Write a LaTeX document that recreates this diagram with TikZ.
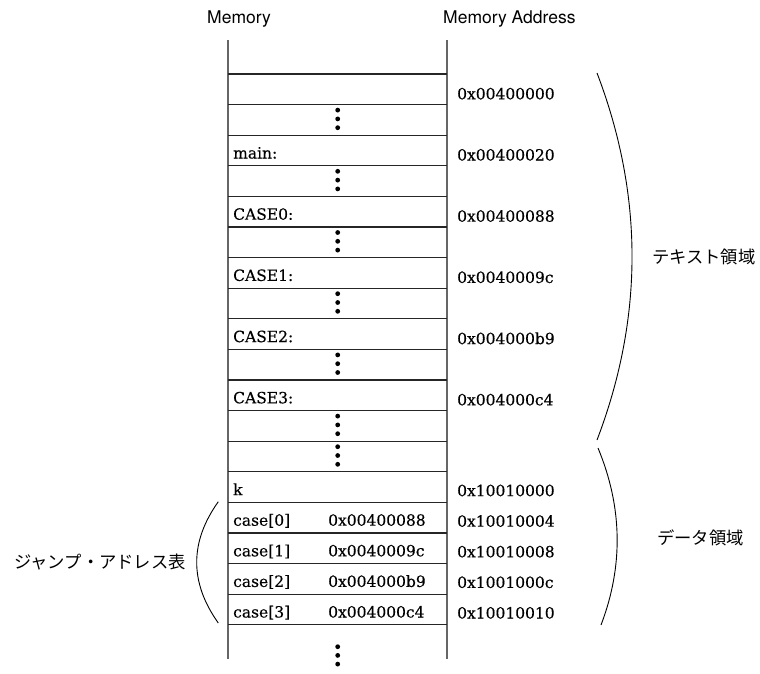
\documentclass[tikz,border=0pt]{standalone}
\usepackage{fontspec}
\setmainfont{DejaVu Serif}[FakeBold=0.3]
\newfontfamily\hfont{TeX Gyre Heros}
\newfontfamily\jfont{Noto Sans CJK JP}
\begin{document}
\begin{tikzpicture}[x=1pt,y=-1pt,
  hline/.style={line width=1.3pt, black!85},
  vline/.style={line width=1.2pt, black!60},
  lbl/.style={anchor=base west, inner sep=0pt, font=\fontsize{15.5}{18}\selectfont},
  addr/.style={anchor=base west, inner sep=0pt, font=\fontsize{15.5}{18}\selectfont},
  hd/.style={anchor=base west, inner sep=0pt, font=\hfont\fontsize{17.5}{20}\selectfont},
  jp/.style={anchor=west, inner sep=0pt, font=\jfont\fontsize{17.3}{20}\selectfont},
  brace/.style={line width=0.9pt, black}]
\useasboundingbox (0,0) rectangle (760,673);
% headers
\node[hd] (hmem) at (207,23.3) {Memory};
\node[hd] (haddr) at (443,23.3) {Memory Address};
% column
\draw[vline] (228,40) -- (228,659);
\draw[vline] (447,40) -- (447,659);
\foreach \k in {0,...,18} {
  \draw[hline] (228,{74+30.6*\k}) -- (447,{74+30.6*\k});
}
% dots
\foreach \k in {1,3,5,7,9,11,12} {
  \foreach \d in {-8.8,0,8.8} {
    \fill (337.7,{89.3+30.6*\k-1+\d}) circle (2.4);
  }
}
\foreach \d in {646.7,655.4,664.1} {
  \fill (337.7,\d) circle (2.4);
}
% row labels
\foreach \r/\t in {2/main:,4/CASE0:,6/CASE1:,8/CASE2:,10/CASE3:,13/k} {
  \node[lbl] (l\r) at (233,{89.3+30.6*\r+8}) {\t};
}
\node[lbl] (l14) at (233,{89.3+30.6*14+8}) {case[0]};
\node[lbl] (l15) at (233,{89.3+30.6*15+8}) {case[1]};
\node[lbl] (l16) at (233,{89.3+30.6*16+8}) {case[2]};
\node[lbl] (l17) at (233,{89.3+30.6*17+8}) {case[3]};
\node[lbl] (v14) at (328,{89.3+30.6*14+8}) {0x00400088};
\node[lbl] (v15) at (328,{89.3+30.6*15+8}) {0x0040009c};
\node[lbl] (v16) at (328,{89.3+30.6*16+8}) {0x004000b9};
\node[lbl] (v17) at (328,{89.3+30.6*17+8}) {0x004000c4};
% addresses
\foreach \r/\t in {0/0x00400000,2/0x00400020,4/0x00400088,6/0x0040009c,8/0x004000b9,10/0x004000c4} {
  \node[addr] (a\r) at (457,{89.3+30.6*\r+10}) {\t};
}
\foreach \r/\t in {13/0x10010000,14/0x10010004,15/0x10010008,16/0x1001000c,17/0x10010010} {
  \node[addr] (a\r) at (457,{89.3+30.6*\r+9}) {\t};
}
% brackets
\draw[brace] (597,73) .. controls (643.7,195.3) and (643.7,317.7) .. (597,440);
\draw[brace] (598,448) .. controls (622.5,507) and (623.5,566) .. (601,625);
\draw[brace] (218.3,501.7) .. controls (189.5,542) and (189.5,582.6) .. (218.3,623);
% region labels
\node[jp] (text) at (652,257) {テキスト領域};
\node[jp] (data) at (657,538) {データ領域};
\node[jp,anchor=east] (jump) at (186,562) {ジャンプ・アドレス表};
\end{tikzpicture}
\end{document}
